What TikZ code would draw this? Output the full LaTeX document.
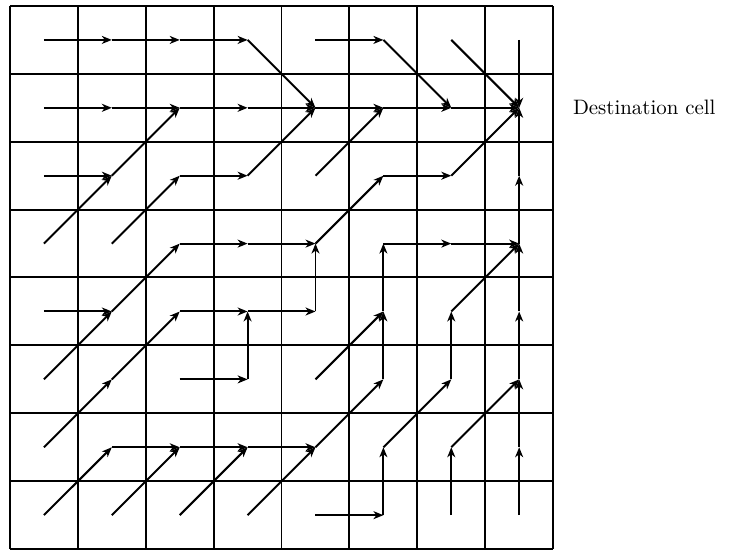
\documentclass[tikz,border=0pt]{standalone}
\usetikzlibrary{arrows.meta}

\begin{document}
\begin{tikzpicture}[scale=1.2,line width=1pt,
  flow/.style={-{Stealth[length=5pt,width=4pt,inset=1.5pt]}}]
\useasboundingbox (-0.147,0.088) rectangle (10.74,-8.015);
\draw (0,0) grid (8,-8);
% cell centres
\foreach \c in {0,...,7}
  \foreach \r in {0,...,7}
    \coordinate (p-\c-\r) at (\c+0.5,-\r-0.5);
% one arrow per cell, pointing to the next cell on the way
\foreach \a/\b in {0-0/1-0,1-0/2-0,2-0/3-0,3-0/4-1,4-0/5-0,5-0/6-1,6-0/7-1,7-0/7-1,
  0-1/1-1,1-1/2-1,2-1/3-1,3-1/4-1,4-1/5-1,5-1/6-1,6-1/7-1,
  0-2/1-2,1-2/2-1,2-2/3-2,3-2/4-1,4-2/5-1,5-2/6-2,6-2/7-1,7-2/7-1,
  0-3/1-2,1-3/2-2,2-3/3-3,3-3/4-3,4-3/5-2,5-3/6-3,6-3/7-3,7-3/7-2,
  0-4/1-4,1-4/2-3,2-4/3-4,3-4/4-4,4-4/4-3,5-4/5-3,6-4/7-3,7-4/7-3,
  0-5/1-4,1-5/2-4,2-5/3-5,3-5/3-4,4-5/5-4,5-5/5-4,6-5/6-4,7-5/7-4,
  0-6/1-5,1-6/2-6,2-6/3-6,3-6/4-6,4-6/5-5,5-6/6-5,6-6/7-5,7-6/7-5,
  0-7/1-6,1-7/2-6,2-7/3-6,3-7/4-6,4-7/5-7,5-7/5-6,6-7/6-6,7-7/7-6}
  \draw[flow] (p-\a) -- (p-\b);
\node[anchor=west,inner sep=0pt,font=\fontsize{10.5}{12}\selectfont] (dest) at (8.28,-1.5) {Destination cell};
\end{tikzpicture}
\end{document}
